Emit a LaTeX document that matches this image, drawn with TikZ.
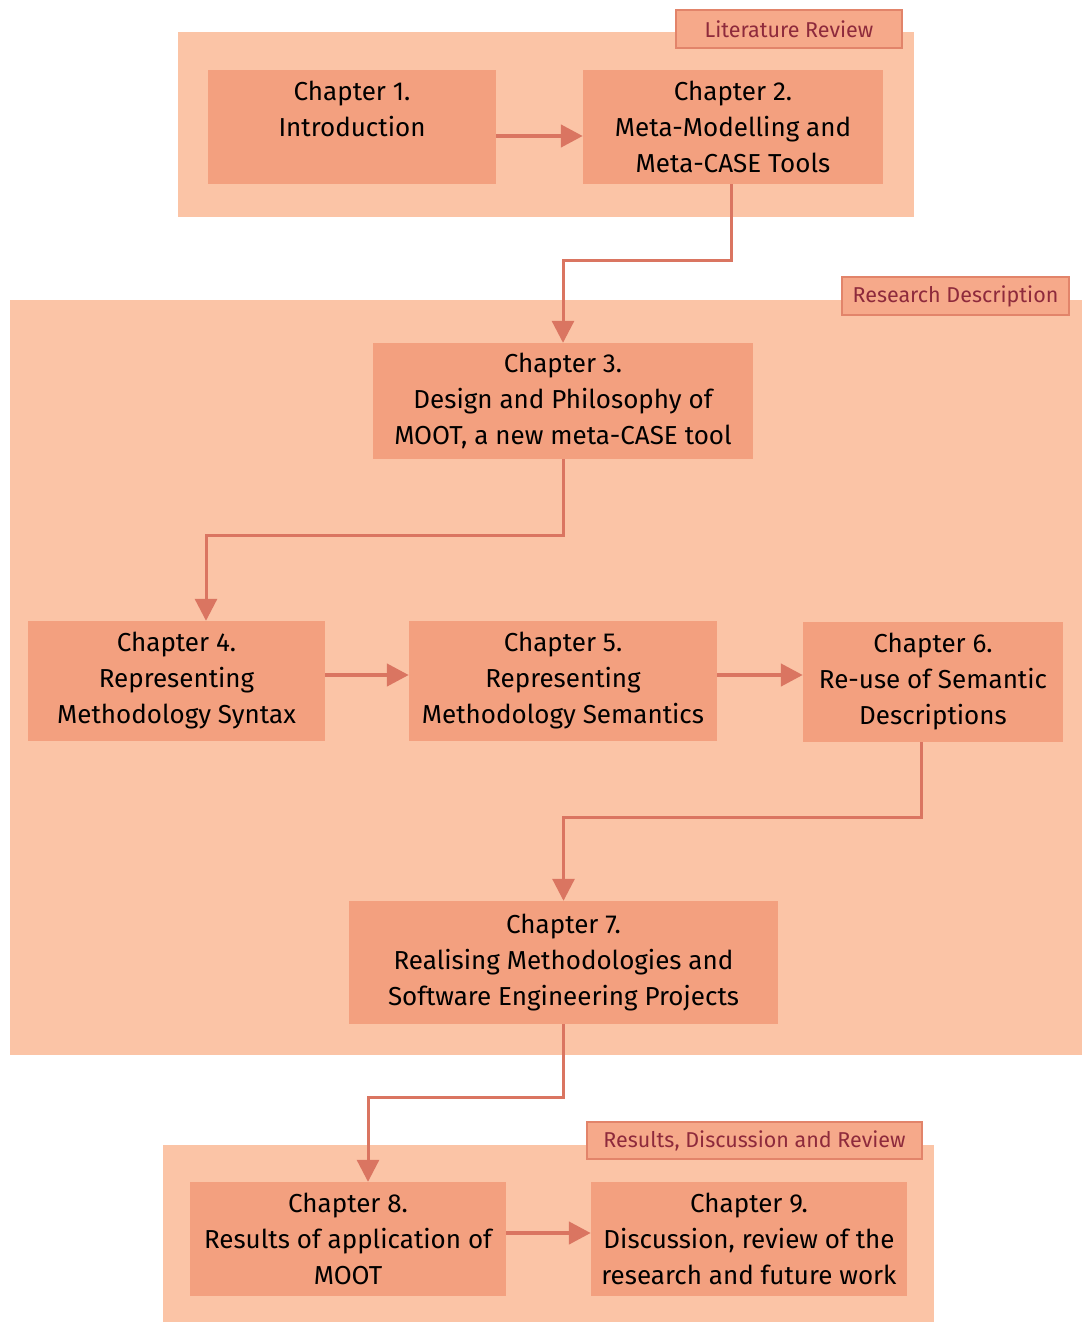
\documentclass[tikz,border=0pt]{standalone}
\usepackage{fontspec}
\setmainfont{Fira Sans}
\usetikzlibrary{arrows.meta}
\definecolor{panelfill}{HTML}{FBC4A6}
\definecolor{boxfill}{HTML}{F3A07F}
\definecolor{tagfill}{HTML}{F6A98A}
\definecolor{tagline}{HTML}{E2846A}
\definecolor{tagtext}{HTML}{8E2A3C}
\definecolor{flow}{HTML}{DA7561}
\tikzset{
  panel/.style={fill=panelfill, draw=none},
  chapbox/.style={fill=boxfill, draw=none, align=center, inner sep=0pt,
    font=\fontsize{26}{36}\selectfont, text=black},
  tag/.style={fill=tagfill, draw=tagline, line width=1.5pt, inner sep=0pt,
    font=\fontsize{21.5}{24}\selectfont, text=tagtext},
  arr/.style={draw=flow, line width=3pt,
    -{Triangle[length=22pt,width=22pt]}},
  harr/.style={arr, line width=4.5pt},
}
\begin{document}
\begin{tikzpicture}[x=1pt,y=-1pt]
\useasboundingbox (0,0) rectangle (1082,1322);

% section panels
\fill[panel] (178,32) rectangle (914,217);
\fill[panel] (10,300) rectangle (1082,1055);
\fill[panel] (163,1145) rectangle (934,1322);

% section tags
\node[tag, minimum width=226pt, minimum height=38pt] (tlit) at (789,29) {Literature Review};
\node[tag, minimum width=227pt, minimum height=38pt] (tres) at (955.5,296) {Research Description};
\node[tag, minimum width=335pt, minimum height=37pt] (tresu) at (754.5,1140.5) {Results, Discussion and Review};

% chapters
\node[chapbox, minimum width=288pt, minimum height=114pt] (ch1) at (352,127) {Chapter 1.\\Introduction\\\mbox{}};
\node[chapbox, minimum width=300pt, minimum height=114pt] (ch2) at (733,127) {Chapter 2.\\Meta-Modelling and\\Meta-CASE Tools};
\node[chapbox, minimum width=380pt, minimum height=116pt] (ch3) at (563,401) {Chapter 3.\\Design and Philosophy of\\MOOT, a new meta-CASE tool};
\node[chapbox, minimum width=297pt, minimum height=120pt] (ch4) at (176.5,681) {Chapter 4.\\Representing\\Methodology Syntax};
\node[chapbox, minimum width=308pt, minimum height=120pt] (ch5) at (563,681) {Chapter 5.\\Representing\\Methodology Semantics};
\node[chapbox, minimum width=260pt, minimum height=120pt] (ch6) at (933,682) {Chapter 6.\\Re-use of Semantic\\Descriptions};
\node[chapbox, minimum width=429pt, minimum height=123pt] (ch7) at (563.5,962.5) {Chapter 7.\\Realising Methodologies and\\Software Engineering Projects};
\node[chapbox, minimum width=316pt, minimum height=114pt] (ch8) at (348,1239) {Chapter 8.\\Results of application of\\MOOT};
\node[chapbox, minimum width=316pt, minimum height=114pt] (ch9) at (749,1239) {Chapter 9.\\Discussion, review of the\\research and future work};

% bend points of the connectors
\coordinate (b2) at (731,260);
\coordinate (b3) at (206,535);
\coordinate (b6) at (921,817);
\coordinate (b7) at (368,1097);

% connectors
\draw[harr] (ch1.east |- 0,136) -- (ch2.west |- 0,136);
\draw[arr] (ch2.south -| b2) -- (b2) -| (ch3.north);
\draw[arr] (ch3.south) |- (b3) -- (ch4.north -| b3);
\draw[harr] (ch4.east |- 0,675) -- (ch5.west |- 0,675);
\draw[harr] (ch5.east |- 0,675) -- (ch6.west |- 0,675);
\draw[arr] (ch6.south -| b6) -- (b6) -| (ch7.north);
\draw[arr] (ch7.south) |- (b7) -- (ch8.north -| b7);
\draw[harr] (ch8.east |- 0,1233) -- (ch9.west |- 0,1233);
\end{tikzpicture}
\end{document}
